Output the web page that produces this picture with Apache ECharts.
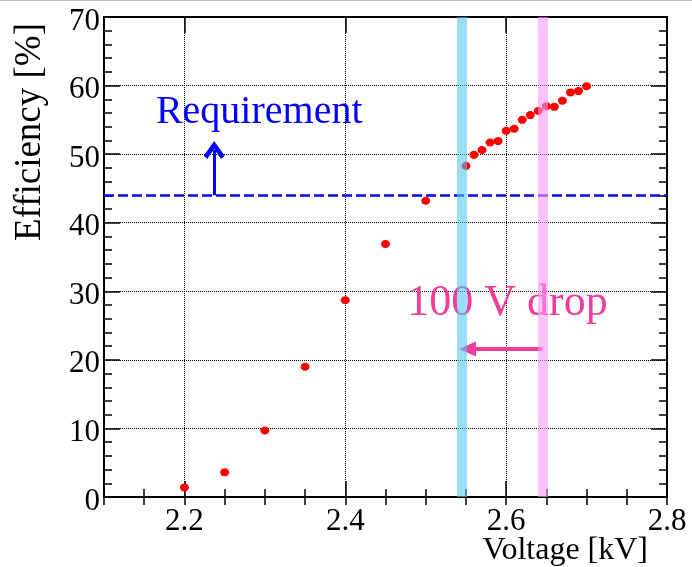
<!DOCTYPE html>
<html><head><meta charset="utf-8">
<script src="https://cdn.jsdelivr.net/npm/echarts@6/dist/echarts.min.js"></script>
<style>html,body{margin:0;padding:0;background:#fff}#c{width:692px;height:567px}</style>
</head><body><div id="c"></div>
<script>
// ---- data ----
const voltage = [2.20, 2.25, 2.30, 2.35, 2.40, 2.45, 2.50,
  2.55, 2.56, 2.57, 2.58, 2.59, 2.60, 2.61, 2.62, 2.63, 2.64, 2.65, 2.66, 2.67, 2.68, 2.69, 2.70];
const efficiency = [1.4, 3.6, 9.7, 19.0, 28.7, 36.9, 43.2,
  48.3, 49.9, 50.6, 51.7, 51.9, 53.4, 53.7, 55.0, 55.7, 56.3, 57.0, 56.9, 57.8, 59.0, 59.2, 59.9];
const xTickLabels = [2.2, 2.4, 2.6, 2.8];
const xRange = [2.1, 2.8];
const yRange = [0, 70];
const requirementLevel = 44;
const requirementArrow = [[2.237, 44], [2.237, 50.6]];
const bandVoltages = [2.545, 2.645];
const dropArrow = [[2.645, 21.6], [2.552, 21.6]];
const requirementText = ['Requirement', 2.293, 56.1];
const dropText = ['100 V drop', 2.477, 28.2];

// ---- chart ----
const FONT = 'Liberation Serif';
const rect = {left: 104, top: 17, right: 25, bottom: 70};
const bandColors = ['rgba(85,198,242,0.6)', 'rgba(255,150,247,0.6)'];
const pink = '#f23c9b';
const chevron = 'path://M10,0 L20,14 L16.5,17 L10,7.5 L3.5,17 L0,14 Z';

const chart = echarts.init(document.getElementById('c'), null, {renderer: 'canvas'});

const tickStyle = {color: '#000', width: 1.5};
const labelRich = {t: {fontFamily: FONT, fontSize: 31, color: '#000', fontWeight: 'normal', fontStyle: 'normal'}};
const baseX = (grid, pos) => ({
  type: 'value', gridIndex: grid, position: pos, min: xRange[0], max: xRange[1], interval: 0.05,
  axisLine: {show: false}, axisLabel: {show: false}, splitLine: {show: false},
  axisTick: {show: true, inside: true, length: 8, lineStyle: tickStyle}
});

const option = {
  animation: false,
  backgroundColor: '#fff',
  textStyle: {fontFamily: FONT},
  grid: [
    Object.assign({show: true, borderColor: '#000', borderWidth: 2, backgroundColor: 'transparent'}, rect),
    Object.assign({show: false}, rect),
    Object.assign({show: false}, rect)
  ],
  xAxis: [
    {
      type: 'value', gridIndex: 0, position: 'bottom', min: xRange[0], max: xRange[1], interval: 0.05,
      axisLine: {show: false},
      axisTick: {show: true, inside: true, length: 16, customValues: xTickLabels, lineStyle: tickStyle},
      axisLabel: {show: true, customValues: xTickLabels, margin: 9, fontFamily: FONT, fontSize: 31, color: '#000',
        formatter: v => '{t|' + v + '}', rich: labelRich},
      splitLine: {show: true, lineStyle: {color: '#000', width: 1, type: [1, 1]}}
    },
    baseX(1, 'bottom'),
    Object.assign(baseX(1, 'top'), {axisTick: {show: true, inside: true, length: 16, customValues: xTickLabels, lineStyle: tickStyle}}),
    baseX(2, 'top')
  ],
  yAxis: [
    {
      type: 'value', gridIndex: 0, position: 'left', min: yRange[0], max: yRange[1], interval: 10,
      axisLine: {show: false},
      axisTick: {show: true, inside: true, length: 16, lineStyle: tickStyle},
      minorTick: {show: true, splitNumber: 5, length: 8, lineStyle: tickStyle},
      axisLabel: {show: true, margin: 4, padding: [9, 0, 0, 0], fontFamily: FONT, fontSize: 31, color: '#000',
        showMinLabel: true, showMaxLabel: true, formatter: v => '{t|' + v + '}', rich: labelRich},
      splitLine: {show: true, lineStyle: {color: '#000', width: 1, type: [1, 1]}}
    },
    {
      type: 'value', gridIndex: 1, position: 'right', min: yRange[0], max: yRange[1], interval: 10,
      axisLine: {show: false}, axisLabel: {show: false}, splitLine: {show: false},
      axisTick: {show: true, inside: true, length: 16, lineStyle: tickStyle},
      minorTick: {show: true, splitNumber: 5, length: 8, lineStyle: tickStyle}
    },
    {type: 'value', gridIndex: 2, min: yRange[0], max: yRange[1], show: false}
  ],
  series: [
    {
      type: 'scatter', xAxisIndex: 0, yAxisIndex: 0, z: 3, silent: true,
      symbol: 'circle', symbolSize: [9, 8],
      itemStyle: {color: '#ff0000', opacity: 1},
      data: voltage.map((v, i) => [v, efficiency[i]])
    },
    {
      type: 'line', xAxisIndex: 0, yAxisIndex: 0, z: 4, data: [], silent: true,
      markLine: {
        silent: true, animation: false, precision: 5, symbol: ['none', 'none'], label: {show: false},
        data: [
          {yAxis: requirementLevel, lineStyle: {color: '#0000ff', width: 2.5, type: [10, 4]}},
          [
            {coord: requirementArrow[0], symbol: 'none', lineStyle: {color: '#0000ff', width: 3, type: 'solid'}},
            {coord: requirementArrow[1], symbol: chevron, symbolSize: [21, 18]}
          ],
          [
            {coord: dropArrow[0], symbol: 'none', lineStyle: {color: pink, width: 4, type: 'solid'}},
            {coord: dropArrow[1], symbol: 'triangle', symbolSize: [15, 17]}
          ]
        ]
      }
    },
    {
      type: 'line', xAxisIndex: 0, yAxisIndex: 0, z: 6, data: [], silent: true,
      markLine: {
        silent: true, animation: false, precision: 5, symbol: ['none', 'none'], label: {show: false},
        data: bandVoltages.map((v, i) => ({xAxis: v, lineStyle: {color: bandColors[i], width: 10, type: 'solid'}}))
      }
    }
  ]
};
chart.setOption(option);

const pReq = chart.convertToPixel({gridIndex: 0}, [requirementText[1], requirementText[2]]);
const pDrop = chart.convertToPixel({gridIndex: 0}, [dropText[1], dropText[2]]);

chart.setOption({
  graphic: [
    {type: 'rect', z: 0, shape: {x: 0, y: 0, width: 692, height: 1}, style: {fill: '#c4c4c4'}},
    {type: 'text', z: 1, x: pReq[0], y: pReq[1],
      style: {text: requirementText[0], font: '40px "Liberation Serif"', fill: '#0000ff', textAlign: 'center', textVerticalAlign: 'middle'}},
    {type: 'text', z: 1, x: pDrop[0], y: pDrop[1],
      style: {text: dropText[0], font: '44px "Liberation Serif"', fill: pink, textAlign: 'left', textVerticalAlign: 'middle'}},
    {type: 'text', z: 1, x: 30.5, y: 23, rotation: Math.PI / 2,
      style: {text: 'Efficiency [%]', font: '37px "Liberation Serif"', fill: '#000', textAlign: 'right', textVerticalAlign: 'middle'}},
    {type: 'text', z: 1, x: 648, y: 551,
      style: {text: 'Voltage [kV]', font: '32px "Liberation Serif"', fill: '#000', textAlign: 'right', textVerticalAlign: 'middle'}}
  ]
});
</script>
</body></html>
